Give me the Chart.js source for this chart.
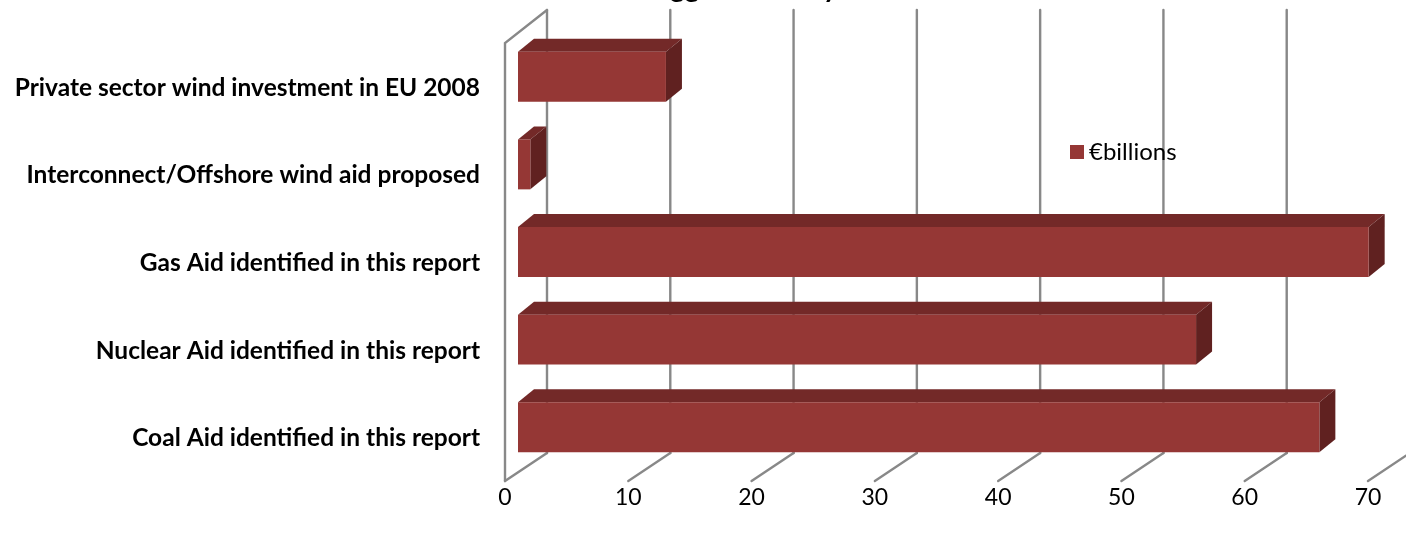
<!DOCTYPE html>
<html><head><meta charset="utf-8">
<script src="https://cdn.jsdelivr.net/npm/chart.js@4.4.0/dist/chart.umd.min.js"></script>
<style>html,body{margin:0;padding:0;background:#fff;overflow:hidden}canvas{display:block}</style>
</head><body>
<canvas id="c" width="1406" height="535"></canvas>
<script>
// ---- data ----
const chartTitle = "Biggest subsidy";
const seriesName = "€billions";
const categories = [
  "Private sector wind investment in EU 2008",
  "Interconnect/Offshore wind aid proposed",
  "Gas Aid identified in this report",
  "Nuclear Aid identified in this report",
  "Coal Aid identified in this report"
];
const values = [12, 1, 69, 55, 65];
const axisMin = 0, axisMax = 70, axisStep = 10;

// ---- style ----
const FRONT_COLOR = "rgb(149,55,53)";
const TOP_COLOR = "rgb(115,41,40)";
const SIDE_COLOR = "rgb(96,33,32)";
const GRID_COLOR = "#888888";
const FONT = "Lato";
const WALL_FRONT = {dx: -13, dy: 10};   // front plane relative to bar plane
const WALL_BACK = {dx: 29, dy: -18};    // back plane relative to bar plane
const BAR_DEPTH = {dx: 16, dy: -13};

const threeD = {
  id: 'threeD',
  beforeDatasetsDraw(chart) {
    const ctx = chart.ctx, a = chart.chartArea, xs = chart.scales.x;
    ctx.save();
    ctx.strokeStyle = GRID_COLOR;
    ctx.lineWidth = 2.4;
    ctx.lineCap = 'round';
    const fTop = a.top + WALL_FRONT.dy, fBot = a.bottom + WALL_FRONT.dy;
    const bTop = a.top + WALL_BACK.dy - 5, bBot = a.bottom + WALL_BACK.dy;
    const x0 = xs.getPixelForValue(axisMin);
    ctx.beginPath();
    ctx.moveTo(x0 + WALL_FRONT.dx, fBot);
    ctx.lineTo(x0 + WALL_FRONT.dx, fTop);
    ctx.lineTo(x0 + WALL_BACK.dx, bTop);
    ctx.stroke();
    for (let v = axisMin; v <= axisMax; v += axisStep) {
      const px = xs.getPixelForValue(v);
      ctx.beginPath();
      ctx.moveTo(px + WALL_BACK.dx, bTop);
      ctx.lineTo(px + WALL_BACK.dx, bBot);
      ctx.stroke();
      ctx.beginPath();
      ctx.moveTo(px + WALL_FRONT.dx, fBot);
      ctx.lineTo(px + WALL_BACK.dx, bBot);
      ctx.stroke();
    }
    const meta = chart.getDatasetMeta(0);
    meta.data.forEach(el => {
      const p = el.getProps(['x', 'y', 'base', 'height'], true);
      const xl = Math.min(p.x, p.base), xr = Math.max(p.x, p.base);
      const yt = p.y - p.height / 2, yb = p.y + p.height / 2;
      ctx.fillStyle = TOP_COLOR;
      ctx.beginPath();
      ctx.moveTo(xl, yt);
      ctx.lineTo(xl + BAR_DEPTH.dx, yt + BAR_DEPTH.dy);
      ctx.lineTo(xr + BAR_DEPTH.dx, yt + BAR_DEPTH.dy);
      ctx.lineTo(xr, yt);
      ctx.closePath();
      ctx.fill();
      ctx.fillStyle = SIDE_COLOR;
      ctx.beginPath();
      ctx.moveTo(xr, yt);
      ctx.lineTo(xr + BAR_DEPTH.dx, yt + BAR_DEPTH.dy);
      ctx.lineTo(xr + BAR_DEPTH.dx, yb + BAR_DEPTH.dy);
      ctx.lineTo(xr, yb);
      ctx.closePath();
      ctx.fill();
    });
    ctx.restore();
  },
  afterDraw(chart) {
    const ctx = chart.ctx;
    ctx.save();
    const ds = chart.data.datasets[0];
    ctx.fillStyle = ds.backgroundColor;
    ctx.fillRect(1070, 145, 14, 14);
    ctx.fillStyle = '#000';
    ctx.font = `24px ${FONT}`;
    ctx.textBaseline = 'middle';
    ctx.textAlign = 'left';
    ctx.fillText(ds.label, 1089, 152);
    ctx.font = `bold 28px ${FONT}`;
    ctx.textBaseline = 'alphabetic';
    const pre = ctx.measureText(chartTitle.slice(0, 2)).width;
    ctx.fillText(chartTitle, 670 - pre, -3);
    ctx.restore();
  }
};

new Chart(document.getElementById('c'), {
  type: 'bar',
  data: {
    labels: categories,
    datasets: [{
      label: seriesName,
      data: values,
      backgroundColor: FRONT_COLOR,
      borderWidth: 0,
      barPercentage: 0.57,
      categoryPercentage: 1.0
    }]
  },
  options: {
    indexAxis: 'y',
    responsive: false,
    animation: false,
    devicePixelRatio: 1,
    layout: {padding: {left: 0, right: 25, top: 33, bottom: 0}},
    plugins: {legend: {display: false}, title: {display: false}, tooltip: {enabled: false}},
    scales: {
      x: {
        min: axisMin, max: axisMax,
        grid: {display: false, drawTicks: false},
        border: {display: false},
        ticks: {stepSize: axisStep, color: '#000', font: {family: FONT, size: 23}, labelOffset: WALL_FRONT.dx, padding: 13, maxRotation: 0},
        afterFit(s) { s.height = 64; s.paddingLeft = 0; s.paddingRight = 0; }
      },
      y: {
        grid: {display: false, drawTicks: false},
        border: {display: false},
        ticks: {color: '#000', font: {family: FONT, size: 24.5, weight: 'bold'}, labelOffset: 11, padding: 38},
        afterFit(s) { s.width = 518; s.paddingTop = 0; s.paddingBottom = 0; }
      }
    }
  },
  plugins: [threeD]
});
</script>
</body></html>
